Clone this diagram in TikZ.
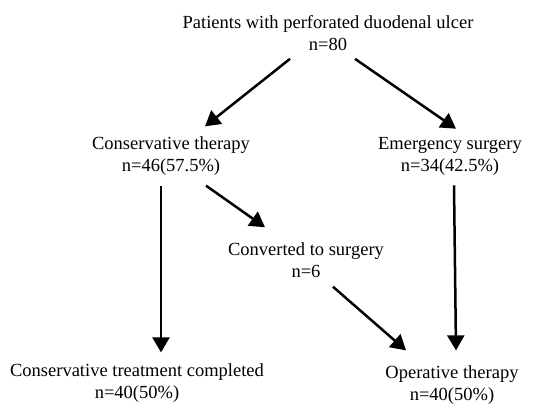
\documentclass[tikz,border=0pt]{standalone}
\usepackage{fontspec}
\setmainfont{Liberation Serif}
\usetikzlibrary{arrows.meta,positioning}

\begin{document}
\begin{tikzpicture}[x=1pt, y=-1pt, >={Triangle[length=15pt,width=17pt]}, line width=2.5pt,
    font=\fontsize{18.5}{22}\selectfont,
    lbl/.style={align=center, inner sep=2pt}]
    \useasboundingbox (0,0) rectangle (534,404);
    \node[lbl] (patients) at (328,33) {Patients with perforated duodenal ulcer\\n=80};
    \node[lbl] (cons) at (171,156) {Conservative therapy\\n=46(57.5\%)};
    \node[lbl] (emerg) at (450,156) {Emergency surgery\\n=34(42.5\%)};
    \node[lbl] (conv) at (306,260) {Converted to surgery\\n=6};
    \node[lbl] (done) at (137,383) {Conservative treatment completed\\n=40(50\%)};
    \node[lbl] (oper) at (452,385) {Operative therapy\\n=40(50\%)};
    \draw[->] ([xshift=-38pt,yshift=-5pt]patients.south) -- ([xshift=34pt,yshift=7pt]cons.north);
    \draw[->] ([xshift=27pt,yshift=-5pt]patients.south) -- ([xshift=6pt,yshift=5pt]emerg.north);
    \draw[->] ([xshift=-10pt,yshift=-7pt]cons.south) -- ([xshift=24pt,yshift=8pt]done.north);
    \draw[->] ([xshift=35pt,yshift=-7pt]cons.south) -- ([xshift=-41pt,yshift=12pt]conv.north);
    \draw[->] ([xshift=27pt,yshift=-6pt]conv.south) -- ([xshift=-46pt,yshift=12pt]oper.north);
    \draw[->] ([xshift=4pt,yshift=-7pt]emerg.south) -- ([xshift=4pt,yshift=12pt]oper.north);
\end{tikzpicture}
\end{document}
